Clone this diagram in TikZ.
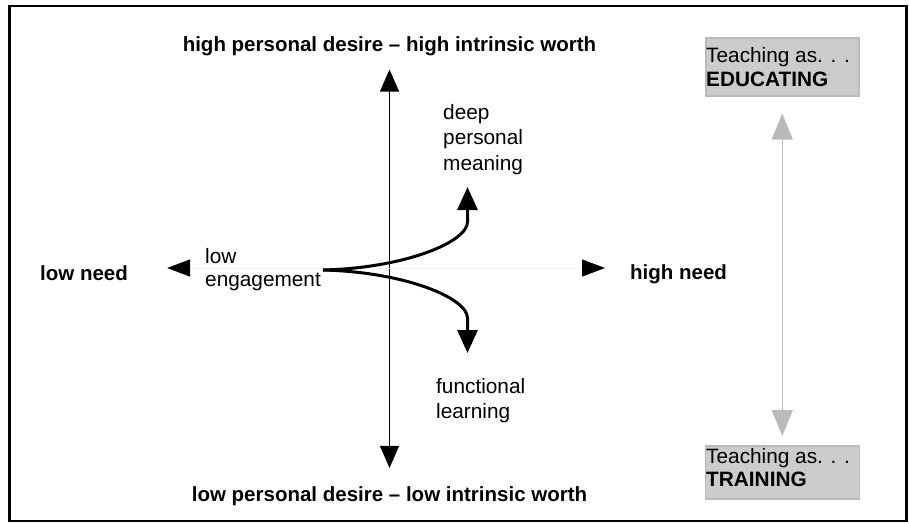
\documentclass[tikz,border=0pt]{standalone}
\usepackage{fontspec}
\setmainfont{Liberation Sans}
\usetikzlibrary{arrows.meta}
\newcommand{\mlines}[1]{\begin{tabular}[t]{@{}l@{}}#1\end{tabular}}
\begin{document}
\begin{tikzpicture}[x=1pt,y=-1pt,
  lbl/.style={inner sep=0pt, font=\fontsize{20.5}{24}\selectfont\bfseries},
  txt/.style={inner sep=0pt, anchor=base west, font=\fontsize{20.8}{25.5}\selectfont},
  tbox/.style={draw=black!27, fill=black!20, line width=1.5pt, inner sep=0pt},
  axisarrow/.style={line width=1.2pt, {Triangle[length=22pt,width=19pt]}-{Triangle[length=22pt,width=19pt]}},
  faintaxis/.style={draw=black!5, line width=1pt, {Triangle[length=23pt,width=17pt,color=black]}-{Triangle[length=23pt,width=17pt,color=black]}},
  curvearrow/.style={line width=3pt, -{Triangle[length=23pt,width=20pt]}},
  greyarrow/.style={draw=black!27, line width=1.3pt, {Triangle[length=26pt,width=21pt]}-{Triangle[length=26pt,width=21pt]}},
]
\useasboundingbox (0,0) rectangle (909,523);
\draw[line width=2.5pt] (9.3,6.2) rectangle (906.5,521);

% vertical axis and labels
\node[lbl, anchor=base] (hi) at (389.5,51) {high personal desire -- high intrinsic worth};
\node[lbl, anchor=base] (lo) at (389.5,501) {low personal desire -- low intrinsic worth};
\draw[axisarrow, shorten <=14pt, shorten >=18pt] (hi) -- (lo);

% horizontal axis
\node[lbl, anchor=base west] (ln) at (40,280) {low need};
\node[lbl, anchor=base west] (hn) at (630,279) {high need};
\coordinate (hc) at (389,268);
\draw[faintaxis, shorten <=39pt, shorten >=25pt] (ln.east |- hc) -- (hn.west |- hc);

% texts
\node[txt, font=\fontsize{20.8}{23}\selectfont] (le) at (205,263) {\mlines{low\\engagement}};
\node[txt] (dp) at (443,119) {\mlines{deep\\personal\\meaning}};
\node[txt, font=\fontsize{20.8}{25}\selectfont] (fl) at (436,393) {\mlines{functional\\learning}};

% curves
\coordinate (src) at (323,270);
\coordinate (uptip) at (467.5,187);
\coordinate (dntip) at (467.5,353);
\draw[curvearrow] (src) .. controls (405,268) and (467.5,242) .. (467.5,222) -- (uptip);
\draw[curvearrow] (src) .. controls (405,272) and (467.5,298) .. (467.5,318) -- (dntip);

% boxes
\node[tbox, anchor=north west, minimum width=153pt, minimum height=58pt] (edu) at (705,37) {};
\node[txt, font=\fontsize{20.8}{24.5}\selectfont] (edut) at (706,62) {\mlines{Teaching as. . .\\\textbf{EDUCATING}}};
\node[tbox, anchor=north west, minimum width=154pt, minimum height=53pt] (tra) at (704.5,445) {};
\node[txt, font=\fontsize{20.8}{23}\selectfont] (trat) at (706,463) {\mlines{Teaching as. . .\\\textbf{TRAINING}}};
\draw[greyarrow, shorten <=17pt, shorten >=9pt] (edu) -- (tra);
\end{tikzpicture}
\end{document}
